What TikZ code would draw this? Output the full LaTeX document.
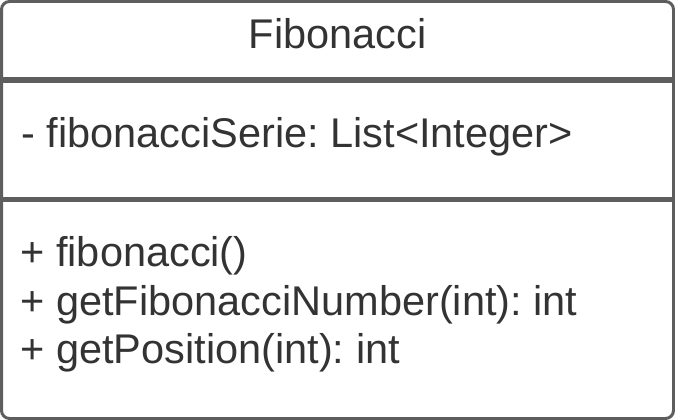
\documentclass[tikz,border=0pt]{standalone}
\usepackage{fontspec}
\setmainfont{Liberation Sans}
\frenchspacing
\definecolor{umlline}{HTML}{5E5E5E}
\definecolor{umltext}{HTML}{333333}
\begin{document}
\begin{tikzpicture}[x=1pt,y=1pt,
  frame/.style={draw=umlline,line width=3pt,rounded corners=8pt},
  divider/.style={draw=umlline,line width=5.5pt},
  label/.style={text=umltext,font=\fontsize{41.5}{48}\selectfont,inner sep=0pt,outer sep=0pt},
  member/.style={label,anchor=base west}]
  \useasboundingbox (0,0) rectangle (675,-420);
  % class box
  \draw[frame] (1.5,-1.5) rectangle (673.5,-418.5);
  % compartment separators
  \coordinate (d1l) at (0,-80);
  \coordinate (d1r) at (675,-80);
  \coordinate (d2l) at (0,-199.7);
  \coordinate (d2r) at (675,-199.7);
  \draw[divider] (d1l) -- (d1r);
  \draw[divider] (d2l) -- (d2r);
  % class name
  \node[label,anchor=base] (name) at (337.5,-49) {Fibonacci};
  % attributes
  \node[member] (attr) at (21.5,-147.5) {- fibonacciSerie: List<Integer>};
  % operations
  \node[member] (op1) at (20.5,-266.5) {+ fibonacci()};
  \node[member] (op2) at (20.5,-315) {+ getFibonacciNumber(int): int};
  \node[member] (op3) at (20.5,-363.5) {+ getPosition(int): int};
\end{tikzpicture}
\end{document}
